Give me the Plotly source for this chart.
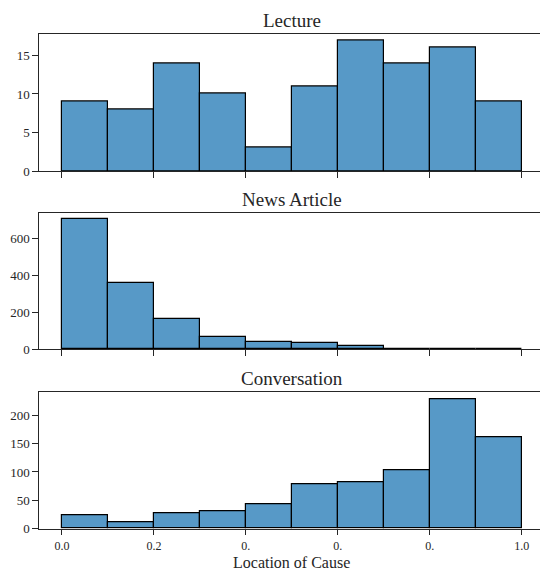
import plotly.graph_objects as go

bin_edges = [0.0, 0.1, 0.2, 0.3, 0.4, 0.5, 0.6, 0.7, 0.8, 0.9, 1.0]
lecture = [9, 8, 14, 10, 3, 11, 17, 14, 16, 9]
news = [701, 355, 164, 63, 36, 32, 16, 0, 0, 0]
conversation = [23, 12, 28, 30, 43, 78, 82, 103, 229, 162]
titles = ["Lecture", "News Article", "Conversation"]
x_tickvals = [0.0, 0.2, 0.4, 0.6, 0.8, 1.0]
x_ticktext = ["0.0", "0.2", "0.", "0.", "0.", "1.0"]
y_tickvals = [[0, 5, 10, 15], [0, 200, 400, 600], [0, 50, 100, 150, 200]]
x_label = "Location of Cause"

W, H = 540, 570
FONT = "Liberation Serif"
TXT = "#262626"
BAR = "#5799c7"

centers = [(a + b) / 2 for a, b in zip(bin_edges[:-1], bin_edges[1:])]
widths = [b - a for a, b in zip(bin_edges[:-1], bin_edges[1:])]

# pixel boxes (top, bottom) for each panel
boxes = [(33.5, 171.0), (213.0, 349.0), (392.3, 528.7)]
title_y = [20.0, 199.0, 378.0]

fig = go.Figure()
series = [lecture, news, conversation]
for i, vals in enumerate(series):
    ax = "" if i == 0 else str(i + 1)
    fig.add_trace(go.Bar(
        x=centers, y=vals, width=widths,
        marker=dict(color=BAR, line=dict(color="black", width=1.2)),
        xaxis="x" + ax, yaxis="y" + ax, showlegend=False,
        hoverinfo="x+y",
    ))

layout = dict(
    template="none",
    width=W, height=H,
    margin=dict(l=38.5, r=0, t=0, b=0, pad=0),
    paper_bgcolor="white", plot_bgcolor="white",
    font=dict(family=FONT, size=12, color=TXT),
    bargap=0,
    annotations=[],
)

for i in range(3):
    ax = "" if i == 0 else str(i + 1)
    top, bot = boxes[i]
    mx = max(series[i]) * 1.05
    layout["xaxis" + ax] = dict(
        domain=[0, 1], range=[-0.05, 1.0398],
        anchor="y" + ax, automargin=False,
        showline=True, linecolor=TXT, linewidth=1.3, mirror=True,
        ticks="outside", ticklen=5.5, tickwidth=1.3, tickcolor=TXT,
        tickvals=x_tickvals, ticktext=x_ticktext,
        showticklabels=(i == 2), showgrid=False, zeroline=False,
        tickfont=dict(family=FONT, size=12, color=TXT),
    )
    layout["yaxis" + ax] = dict(
        domain=[1 - bot / H, 1 - top / H], range=[0, mx],
        anchor="x" + ax, automargin=False,
        showline=True, linecolor=TXT, linewidth=1.3, mirror=False,
        ticks="outside", ticklen=5.5, tickwidth=1.3, tickcolor=TXT,
        tickvals=y_tickvals[i], showgrid=False, zeroline=False,
        tickfont=dict(family=FONT, size=13, color=TXT),
    )
    layout["annotations"].append(dict(
        text=titles[i], xref="x" + ax, x=0.5, yref="paper", y=1 - title_y[i] / H,
        yanchor="middle", xanchor="center", showarrow=False,
        font=dict(family=FONT, size=19, color=TXT),
    ))

layout["annotations"].append(dict(
    text=x_label, xref="x3", x=0.5, yref="paper", y=1 - 562 / H,
    yanchor="middle", xanchor="center", showarrow=False,
    font=dict(family=FONT, size=16, color=TXT),
))

fig.update_layout(**layout)
fig.write_html("out.html", config={"displayModeBar": False},
               post_script="document.body.style.margin='0';document.body.style.padding='0';")
